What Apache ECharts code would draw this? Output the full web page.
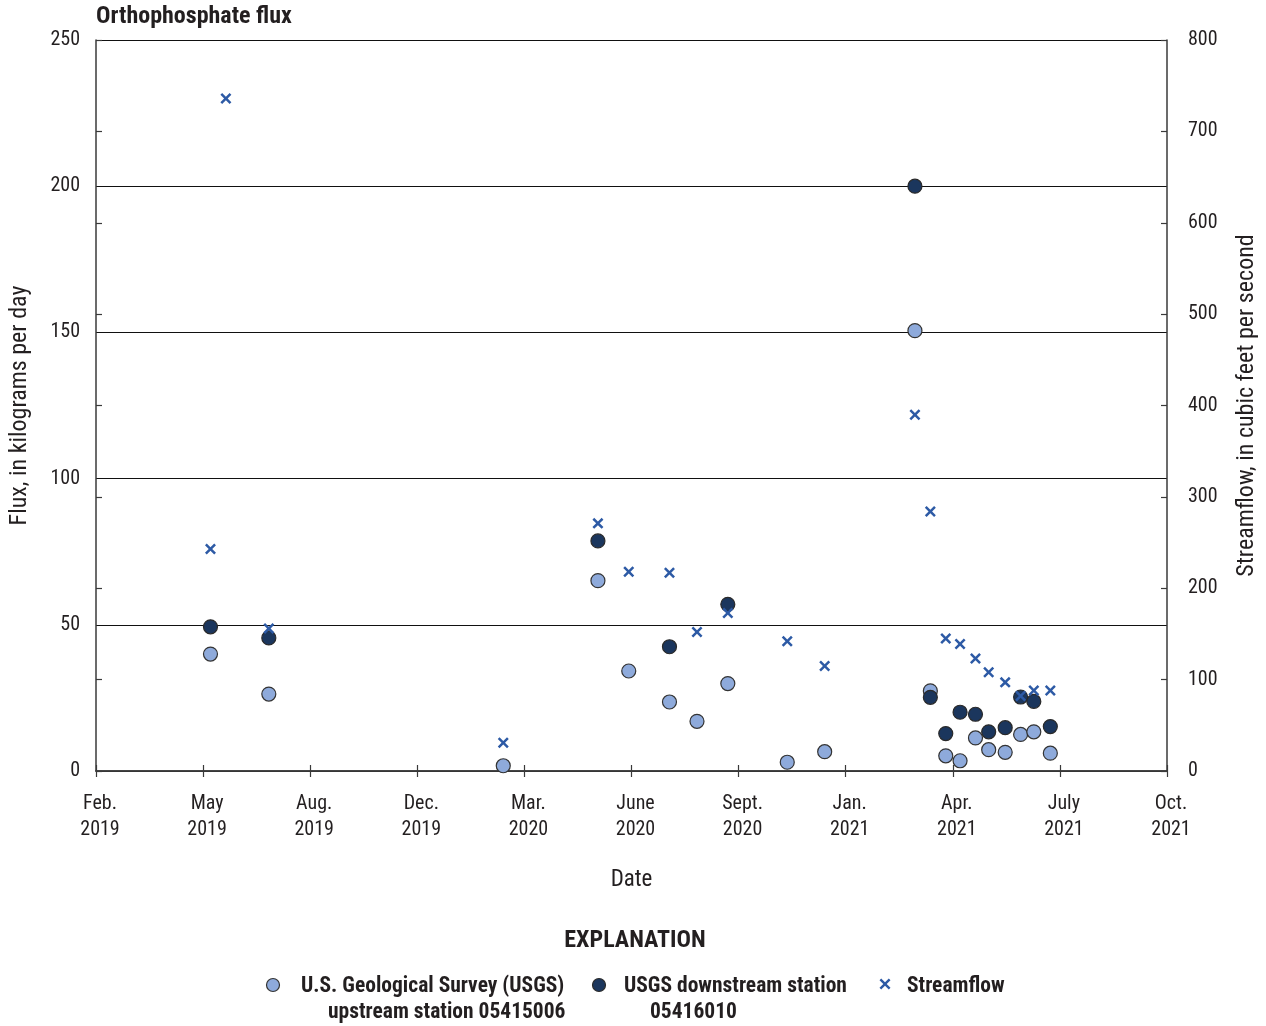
<!DOCTYPE html>
<html>
<head>
<meta charset="utf-8">
<script src="https://cdn.jsdelivr.net/npm/echarts@6/dist/echarts.min.js"></script>
<style>
  html, body { margin: 0; padding: 0; background: #ffffff; }
  #chart { width: 1266px; height: 1026px; }
</style>
</head>
<body>
<div id="chart"></div>
<script>
// Sampling dates and measured values
const sampleDates = [
  '2019-05-16', '2019-05-30', '2019-07-08', '2020-02-06', '2020-05-02', '2020-05-30',
  '2020-07-06', '2020-07-31', '2020-08-28', '2020-10-21', '2020-11-24', '2021-02-14',
  '2021-02-28', '2021-03-14', '2021-03-27', '2021-04-10', '2021-04-22', '2021-05-07',
  '2021-05-21', '2021-06-02', '2021-06-17'
];
// Orthophosphate flux, kilograms per day — upstream station 05415006
const upstreamFlux = [
  40.0, null, 26.3, 1.8, 65.1, 34.2,
  23.6, 17.0, 29.9, 3.0, 6.6, 150.6,
  27.4, 5.2, 3.5, 11.3, 7.3, 6.4,
  12.5, 13.4, 6.1
];
// Orthophosphate flux, kilograms per day — downstream station 05416010
const downstreamFlux = [
  49.3, null, 45.5, null, 78.7, null,
  42.5, null, 57.0, null, null, 200.0,
  25.2, 12.8, 20.1, 19.4, 13.4, 14.8,
  25.3, 23.8, 15.2
];
// Streamflow, cubic feet per second
const streamflow = [
  243, 736, 156, 31, 271, 218,
  217, 152, 173, 142, 115, 390,
  284, 145, 139, 123, 108, 97,
  82, 88, 88
];
// Date axis extent and its ten equal divisions
const axisStart = '2019-02-01';
const axisEnd = '2021-10-01';
const dateTickLabels = [
  'Feb.\n2019', 'May\n2019', 'Aug.\n2019', 'Dec.\n2019', 'Mar.\n2020', 'June\n2020',
  'Sept.\n2020', 'Jan.\n2021', 'Apr.\n2021', 'July\n2021', 'Oct.\n2021'
];

const DAY = 86400000;
const dayOf = s => (Date.parse(s) - Date.parse(axisStart)) / DAY;
const span = dayOf(axisEnd);
const step = span / (dateTickLabels.length - 1);

const pairs = vals => sampleDates
  .map((d, i) => [dayOf(d), vals[i], d])
  .filter(p => p[1] !== null);

const FONT = "'Roboto Condensed', 'Liberation Sans Narrow', 'DejaVu Sans Condensed', 'Liberation Sans', sans-serif";
const INK = '#231f20';
const AXIS = '#3a3a3a';
const LIGHT = '#8eaadb';
const DARK = '#1b365d';
const CROSS = '#2d5aa5';
const CROSS_PATH = 'path://M0,1.6 L1.6,0 L5,3.4 L8.4,0 L10,1.6 L6.6,5 L10,8.4 L8.4,10 L5,6.6 L1.6,10 L0,8.4 L3.4,5 Z';

// Cross glyph for the explanation, centred on (cx, cy)
function crossPoints(cx, cy, r, t) {
  const pts = [[-r, -r + t], [-r + t, -r], [0, -t], [r - t, -r], [r, -r + t], [t, 0],
               [r, r - t], [r - t, r], [0, t], [-r + t, r], [-r, r - t], [-t, 0]];
  return pts.map(p => [cx + p[0], cy + p[1]]);
}

const chart = echarts.init(document.getElementById('chart'), null, { renderer: 'canvas' });

const baseX = {
  type: 'value', min: 0, max: span, interval: step,
  axisLine: { show: true, lineStyle: { color: AXIS, width: 1.5 } },
  axisTick: { show: true, inside: true, length: 6, lineStyle: { color: AXIS, width: 1.2 } },
  splitLine: { show: false }
};

chart.setOption({
  backgroundColor: '#ffffff',
  animation: false,
  title: {
    text: 'Orthophosphate flux',
    left: 96, top: 5, padding: 0,
    textStyle: { fontFamily: FONT, fontWeight: 'bold', fontSize: 24, color: INK }
  },
  grid: { left: 96, right: 99, top: 40, bottom: 255, containLabel: false, outerBoundsMode: 'none' },
  xAxis: [
    Object.assign({}, baseX, {
      position: 'bottom',
      name: 'Date', nameLocation: 'middle', nameGap: 98,
      nameTextStyle: { fontFamily: FONT, fontSize: 23, color: INK },
      axisLabel: {
        show: true, margin: 20, showMinLabel: true, showMaxLabel: true,
        fontFamily: FONT, fontSize: 20, color: INK, lineHeight: 26, padding: [0, 0, 0, 8],
        formatter: v => dateTickLabels[Math.round(v / step)] || ''
      }
    }),
    Object.assign({}, baseX, {
      position: 'top',
      axisLabel: { show: false }
    })
  ],
  yAxis: [
    {
      type: 'value', position: 'left', min: 0, max: 250, interval: 50,
      name: 'Flux, in kilograms per day', nameLocation: 'middle', nameGap: 64, nameRotate: 90,
      nameTextStyle: { fontFamily: FONT, fontSize: 24, color: INK },
      axisLine: { show: true, lineStyle: { color: AXIS, width: 1.5 } },
      axisTick: { show: false },
      axisLabel: { margin: 16, fontFamily: FONT, fontSize: 20, color: INK },
      splitLine: { show: true, lineStyle: { color: '#111111', width: 1.1 } }
    },
    {
      type: 'value', position: 'left', min: 0, max: 800, interval: 100,
      axisLine: { show: false },
      axisTick: { show: true, inside: true, length: 6, lineStyle: { color: AXIS, width: 1.2 } },
      axisLabel: { show: false },
      splitLine: { show: false }
    },
    {
      type: 'value', position: 'right', min: 0, max: 800, interval: 100,
      name: 'Streamflow, in cubic feet per second', nameLocation: 'middle', nameGap: 68, nameRotate: 90,
      nameTextStyle: { fontFamily: FONT, fontSize: 24, color: INK },
      axisLine: { show: true, lineStyle: { color: AXIS, width: 1.5 } },
      axisTick: { show: true, inside: true, length: 6, lineStyle: { color: AXIS, width: 1.2 } },
      axisLabel: { margin: 21, fontFamily: FONT, fontSize: 20, color: INK },
      splitLine: { show: false }
    }
  ],
  series: [
    {
      name: 'U.S. Geological Survey (USGS) upstream station 05415006',
      type: 'scatter', xAxisIndex: 0, yAxisIndex: 0,
      symbol: 'circle', symbolSize: 14,
      itemStyle: { color: LIGHT, borderColor: '#333333', borderWidth: 1.2, opacity: 1 },
      data: pairs(upstreamFlux), z: 3
    },
    {
      name: 'USGS downstream station 05416010',
      type: 'scatter', xAxisIndex: 0, yAxisIndex: 0,
      symbol: 'circle', symbolSize: 14,
      itemStyle: { color: DARK, borderColor: '#2a2a2a', borderWidth: 1.2, opacity: 1 },
      data: pairs(downstreamFlux), z: 4
    },
    {
      name: 'Streamflow',
      type: 'scatter', xAxisIndex: 0, yAxisIndex: 2,
      symbol: CROSS_PATH, symbolSize: 11,
      itemStyle: { color: CROSS, opacity: 1 },
      data: pairs(streamflow), z: 5
    }
  ],
  graphic: [
    {
      type: 'text', x: 635, y: 941,
      style: { text: 'EXPLANATION', font: "bold 24px " + FONT, fill: INK, align: 'center', verticalAlign: 'middle' }
    },
    { type: 'circle', shape: { cx: 273, cy: 985, r: 6.5 },
      style: { fill: LIGHT, stroke: '#333333', lineWidth: 1.2 } },
    { type: 'text', x: 301, y: 987,
      style: { text: 'U.S. Geological Survey (USGS)', font: "bold 21.5px " + FONT, fill: INK, verticalAlign: 'middle' } },
    { type: 'text', x: 328, y: 1013,
      style: { text: 'upstream station 05415006', font: "bold 21.5px " + FONT, fill: INK, verticalAlign: 'middle' } },
    { type: 'circle', shape: { cx: 599, cy: 985, r: 6.5 },
      style: { fill: DARK, stroke: '#2a2a2a', lineWidth: 1.2 } },
    { type: 'text', x: 624, y: 987,
      style: { text: 'USGS downstream station', font: "bold 21.5px " + FONT, fill: INK, verticalAlign: 'middle' } },
    { type: 'text', x: 650, y: 1013,
      style: { text: '05416010', font: "bold 21.5px " + FONT, fill: INK, verticalAlign: 'middle' } },
    { type: 'polygon', shape: { points: crossPoints(885, 984, 5.5, 1.7) },
      style: { fill: CROSS } },
    { type: 'text', x: 907, y: 987,
      style: { text: 'Streamflow', font: "bold 21.5px " + FONT, fill: INK, verticalAlign: 'middle' } }
  ]
});
</script>
</body>
</html>
